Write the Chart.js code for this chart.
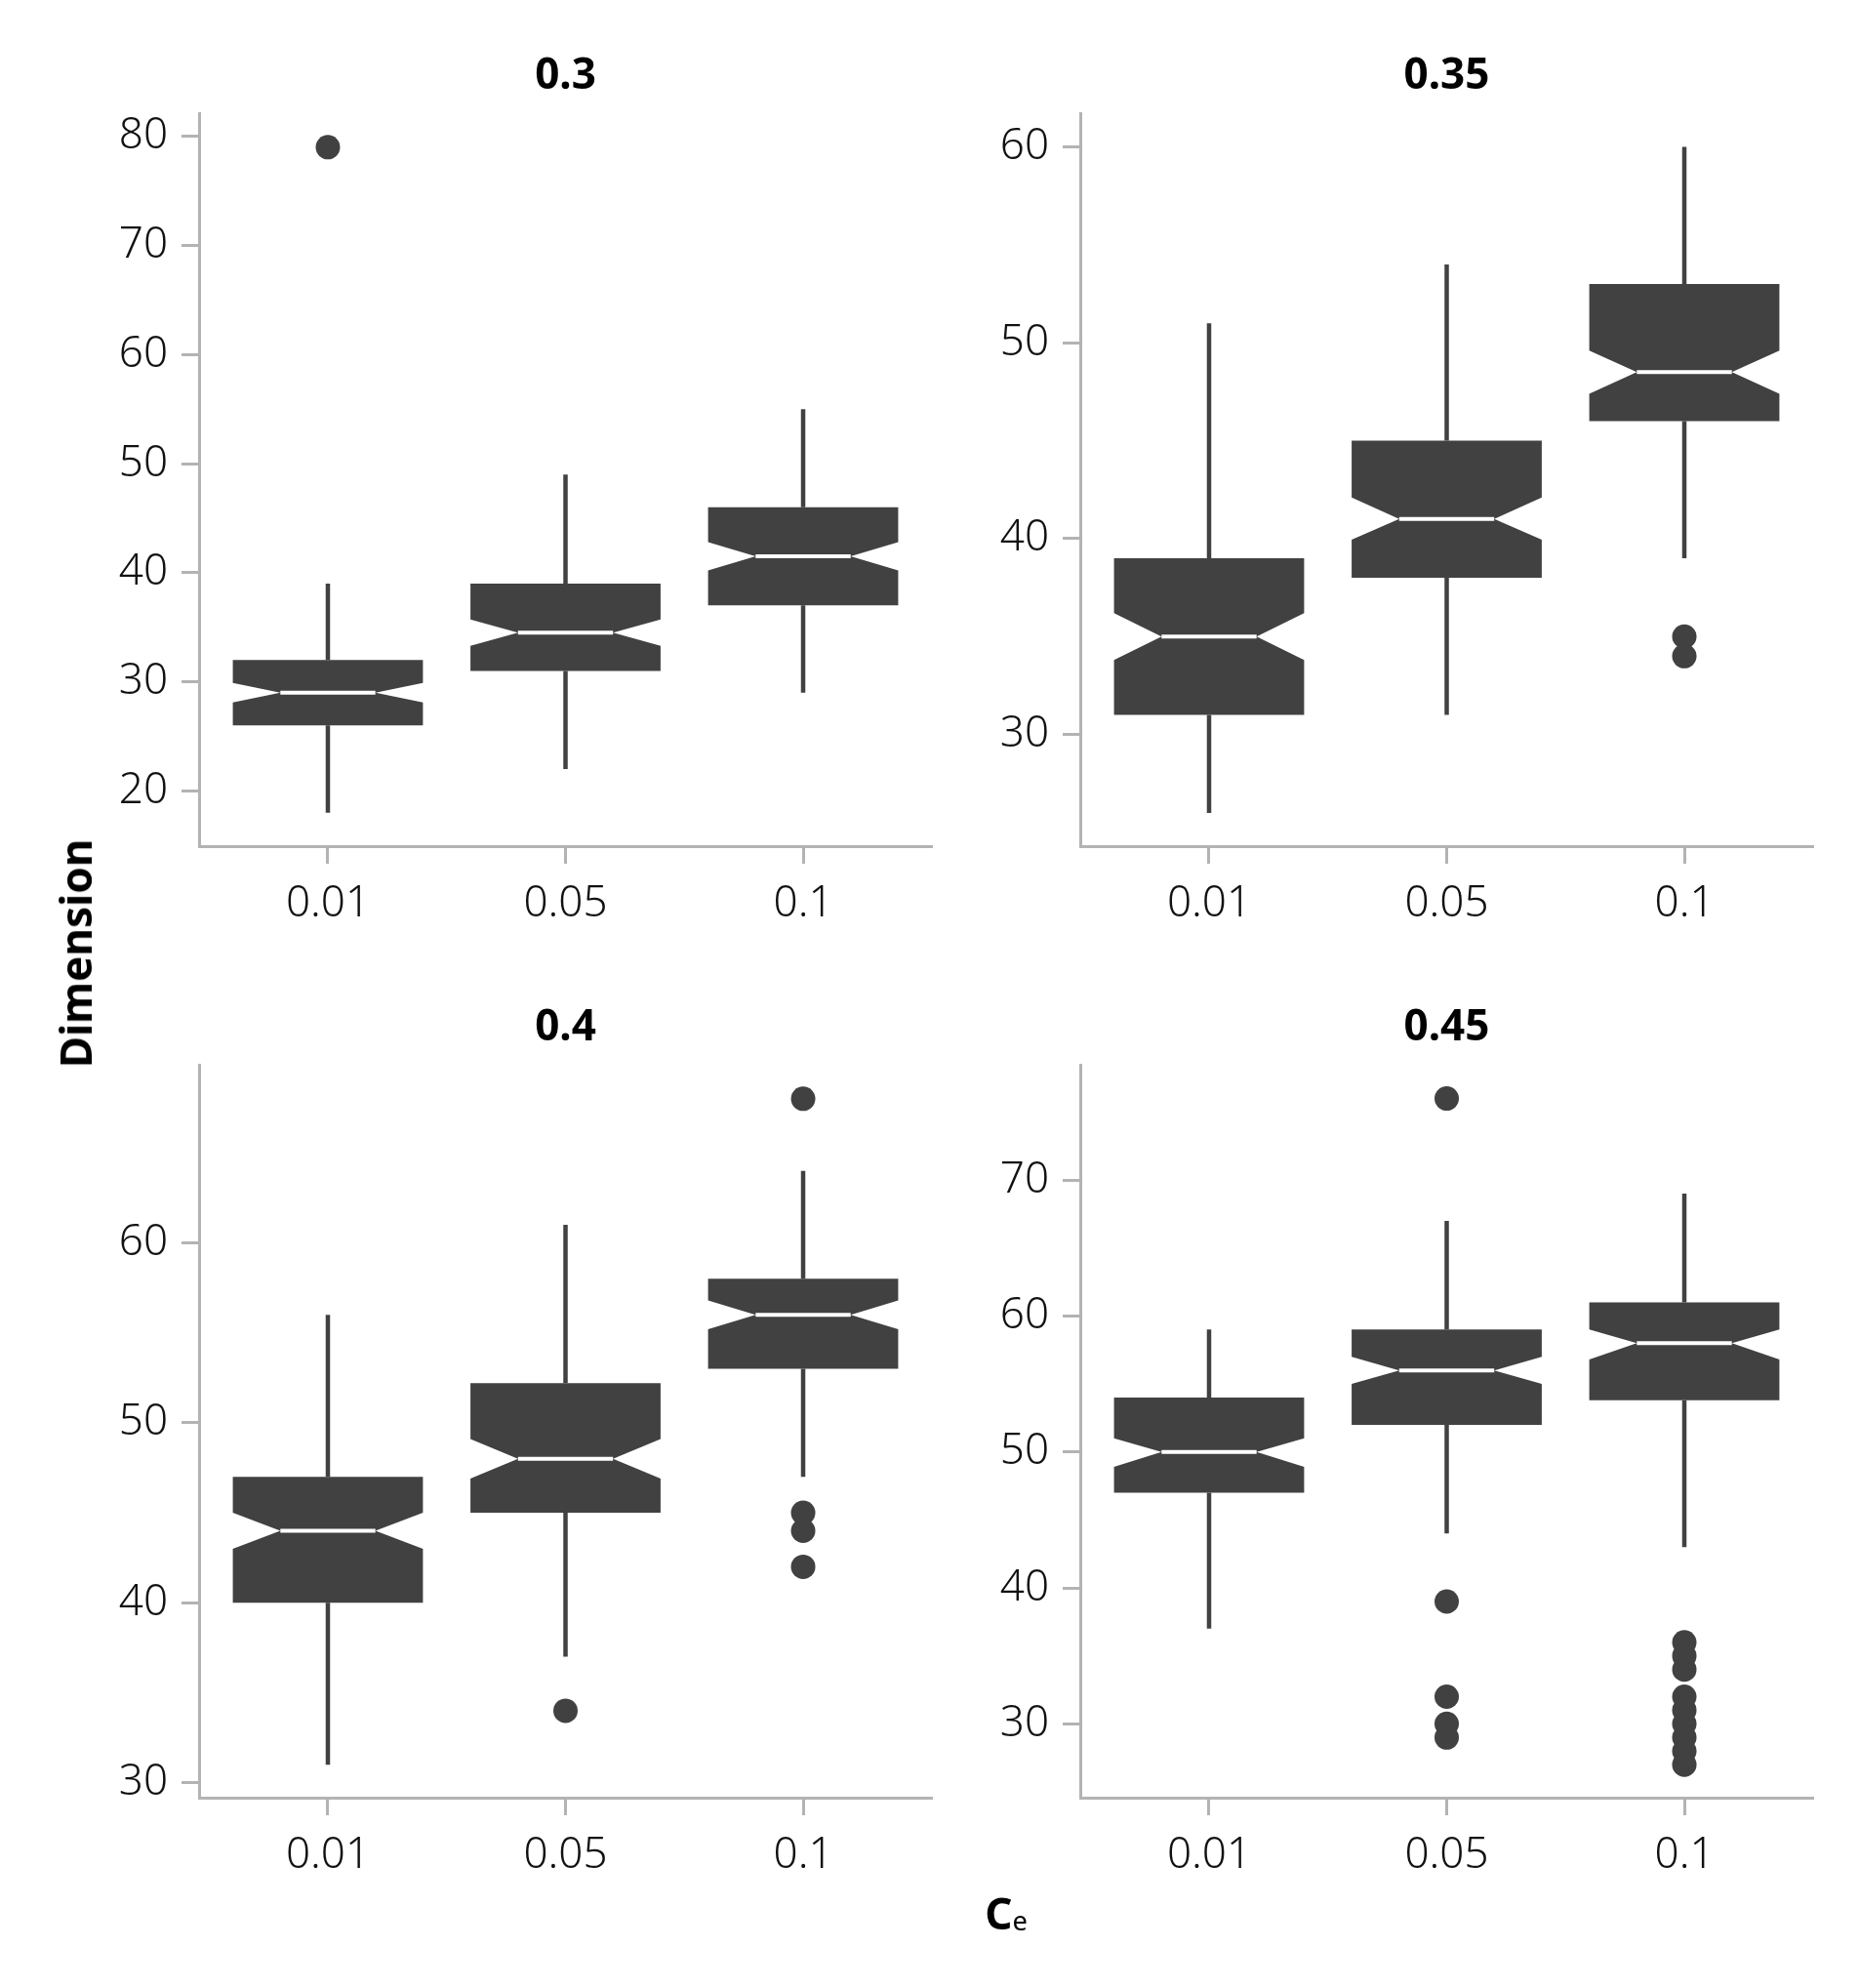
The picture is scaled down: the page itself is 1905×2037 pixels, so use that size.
<!DOCTYPE html>
<html>
<head>
<meta charset="UTF-8">
<script src="https://cdn.jsdelivr.net/npm/chart.js"></script>
<style>
  body { margin: 0; background: #fff; width: 1905px; height: 2037px; position: relative; overflow: hidden; font-family: 'Noto Sans', 'Open Sans', sans-serif; }
  canvas { position: absolute; }
  .lbl { position: absolute; color: #000; font-weight: bold; font-size: 44px; white-space: nowrap; }
  #ylab { left: 77px; top: 977px; transform: translate(-50%, -50%) rotate(-90deg); }
  #xlab { left: 1031px; top: 1960px; transform: translate(-50%, -50%); }
  #xlab sub { font-weight: normal; font-size: 0.62em; vertical-align: -0.05em; }
</style>
</head>
<body>
<canvas id="p0" width="975" height="960" style="left:0px;top:0px"></canvas>
<canvas id="p1" width="975" height="960" style="left:903px;top:0px"></canvas>
<canvas id="p2" width="975" height="960" style="left:0px;top:975px"></canvas>
<canvas id="p3" width="975" height="960" style="left:903px;top:975px"></canvas>
<div class="lbl" id="ylab">Dimension</div>
<div class="lbl" id="xlab">C<sub>e</sub></div>

<script>
// facets and categories
const panelTitles = ["0.3", "0.35", "0.4", "0.45"];
const categories = ["0.01", "0.05", "0.1"];

// box stats per panel, one value per category
const whiskerLow = [[18, 22, 29], [26, 31, 39], [31, 37, 47], [37, 44, 43]];
const q1 = [[26, 31, 37], [31, 38, 46], [40, 45, 53], [47, 52, 53.8]];
const notchLow = [[28.1, 33.3, 40.2], [33.8, 39.95, 47.4], [43, 46.9, 55.2], [48.9, 55, 56.8]];
const median = [[29, 34.5, 41.5], [35, 41, 48.5], [44, 48, 56], [50, 56, 58]];
const notchHigh = [[29.9, 35.7, 42.8], [36.2, 42.1, 49.6], [45, 49.1, 56.8], [51, 57, 59]];
const q3 = [[32, 39, 46], [39, 45, 53], [47, 52.2, 58], [54, 59, 61]];
const whiskerHigh = [[39, 49, 55], [51, 54, 60], [56, 61, 64], [59, 67, 69]];
const outliers = [
  [[79], [], []],
  [[], [], [35, 34]],
  [[], [34], [68, 45, 44, 42]],
  [[], [76, 39, 32, 30, 29], [36, 35, 34, 32, 31, 30, 29, 28, 27]]
];

// y axes
const yMin = [14.93, 24.3, 29.17, 24.57];
const yMax = [82.12, 61.72, 69.89, 78.48];
const yTicks = [[20, 30, 40, 50, 60, 70, 80], [30, 40, 50, 60], [30, 40, 50, 60], [30, 40, 50, 60, 70]];

const FONT = "'Noto Sans', 'Open Sans', sans-serif";
const BOX = "#414141";
const AXIS = "#b3b3b3";

const notchedBoxes = {
  id: "notchedBoxes",
  beforeDatasetsDraw(chart, args, opts) {
    const p = opts.panel;
    const xs = chart.scales.x, ys = chart.scales.y;
    const ctx = chart.ctx;
    ctx.save();
    for (let i = 0; i < categories.length; i++) {
      const xc = xs.getPixelForValue(i);
      const h = xs.getPixelForValue(i + 0.4) - xc;
      const y = (v) => ys.getPixelForValue(v);

      ctx.strokeStyle = BOX;
      ctx.lineWidth = 4.5;
      ctx.beginPath();
      ctx.moveTo(xc, y(whiskerHigh[p][i]));
      ctx.lineTo(xc, y(q3[p][i]));
      ctx.moveTo(xc, y(q1[p][i]));
      ctx.lineTo(xc, y(whiskerLow[p][i]));
      ctx.stroke();

      ctx.fillStyle = BOX;
      ctx.beginPath();
      ctx.moveTo(xc - h, y(q3[p][i]));
      ctx.lineTo(xc + h, y(q3[p][i]));
      ctx.lineTo(xc + h, y(notchHigh[p][i]));
      ctx.lineTo(xc + h / 2, y(median[p][i]));
      ctx.lineTo(xc + h, y(notchLow[p][i]));
      ctx.lineTo(xc + h, y(q1[p][i]));
      ctx.lineTo(xc - h, y(q1[p][i]));
      ctx.lineTo(xc - h, y(notchLow[p][i]));
      ctx.lineTo(xc - h / 2, y(median[p][i]));
      ctx.lineTo(xc - h, y(notchHigh[p][i]));
      ctx.closePath();
      ctx.fill();

      ctx.strokeStyle = "#ffffff";
      ctx.lineWidth = 4;
      ctx.beginPath();
      ctx.moveTo(xc - h / 2, y(median[p][i]));
      ctx.lineTo(xc + h / 2, y(median[p][i]));
      ctx.stroke();
    }

    // facet title, centred over the plot area
    const area = chart.chartArea;
    ctx.fillStyle = "#000";
    ctx.font = "bold 44px " + FONT;
    ctx.textAlign = "center";
    ctx.textBaseline = "middle";
    ctx.fillText(panelTitles[p], (area.left + area.right) / 2, 78);
    ctx.restore();
  }
};

function makePanel(p) {
  const pts = [];
  outliers[p].forEach((vals, i) => vals.forEach((v) => pts.push({ x: i, y: v })));

  new Chart(document.getElementById("p" + p), {
    type: "scatter",
    data: {
      datasets: [{
        data: pts,
        backgroundColor: BOX,
        borderWidth: 0,
        pointRadius: 12.5
      }]
    },
    plugins: [notchedBoxes],
    options: {
      responsive: false,
      animation: false,
      devicePixelRatio: 1,
      layout: { padding: { top: 116, right: 20, bottom: 0, left: 0 } },
      plugins: {
        legend: { display: false },
        tooltip: { enabled: false },
        title: { display: false },
        notchedBoxes: { panel: p }
      },
      scales: {
        x: {
          type: "linear",
          min: -0.542,
          max: 2.542,
          afterBuildTicks: (s) => { s.ticks = [0, 1, 2].map((v) => ({ value: v })); },
          afterFit: (s) => { s.height = 93; },
          border: { display: true, color: AXIS, width: 3 },
          grid: { drawOnChartArea: false, tickLength: 18, tickWidth: 3, tickColor: AXIS },
          ticks: {
            color: "#111",
            font: { family: FONT, size: 44, weight: 300 },
            padding: 15,
            maxRotation: 0,
            callback: (v) => categories[v]
          }
        },
        y: {
          min: yMin[p],
          max: yMax[p],
          afterBuildTicks: (s) => { s.ticks = yTicks[p].map((v) => ({ value: v })); },
          afterFit: (s) => { s.width = 204; },
          border: { display: true, color: AXIS, width: 3 },
          grid: { drawOnChartArea: false, tickLength: 18, tickWidth: 3, tickColor: AXIS },
          ticks: {
            color: "#111",
            font: { family: FONT, size: 44, weight: 300 },
            padding: 14
          }
        }
      }
    }
  });
}

[0, 1, 2, 3].forEach(makePanel);
</script>
</body>
</html>
